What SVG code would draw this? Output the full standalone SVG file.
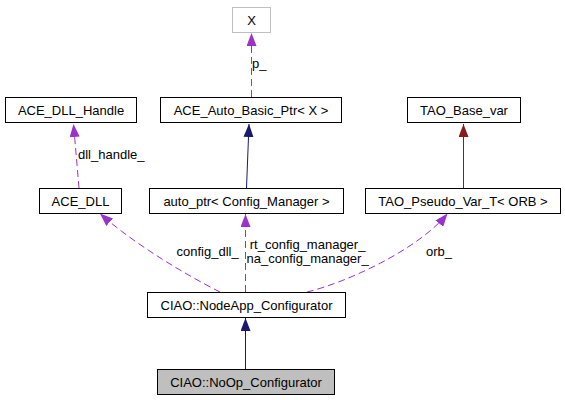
<svg xmlns="http://www.w3.org/2000/svg" width="565" height="400" viewBox="0 0 565 400">
<style>
.node rect{fill:#fff;stroke:#000;stroke-width:1}
text{font-family:"Liberation Sans",Arial,sans-serif;font-size:13px;fill:#000}
.node text{text-anchor:middle}
.dash{fill:none;stroke:#9a32cd;stroke-width:1;stroke-dasharray:7,4}
.navy{fill:none;stroke:#191970;stroke-width:1}
.red{fill:none;stroke:#8b1a1a;stroke-width:1}
</style>
<defs>
<marker id="aP" markerUnits="userSpaceOnUse" markerWidth="13" markerHeight="10" refX="13" refY="5" orient="auto"><path d="M0,0L13,5L0,10z" fill="#9a32cd"/></marker>
<marker id="aN" markerUnits="userSpaceOnUse" markerWidth="13" markerHeight="10" refX="13" refY="5" orient="auto"><path d="M0,0L13,5L0,10z" fill="#191970"/></marker>
<marker id="aR" markerUnits="userSpaceOnUse" markerWidth="13" markerHeight="10" refX="13" refY="5" orient="auto"><path d="M0,0L13,5L0,10z" fill="#8b1a1a"/></marker>
</defs>
<rect width="565" height="400" fill="#fff"/>
<g id="connectors">
<path class="dash" d="M251.5,97 L251.5,33" marker-end="url(#aP)"/>
<text x="252" y="68">p_</text>
<path class="dash" d="M79,188 L73.5,124" marker-end="url(#aP)"/>
<text x="78" y="159">dll_handle_</text>
<path class="navy" d="M246.5,188 L249,124" marker-end="url(#aN)"/>
<path class="red" d="M463.5,188 L463.5,124" marker-end="url(#aR)"/>
<path class="dash" d="M220,292 C190,277 135,245 100,213.5" marker-end="url(#aP)"/>
<text x="176.5" y="256">config_dll_</text>
<path class="dash" d="M245.5,292 L245.5,214" marker-end="url(#aP)"/>
<text x="307.6" y="249.3" text-anchor="middle">rt_config_manager_</text>
<text x="307.6" y="263.3" text-anchor="middle">na_config_manager_</text>
<path class="dash" d="M307,292 C345,283 418,250 447.5,213.5" marker-end="url(#aP)"/>
<text x="426" y="256">orb_</text>
<path class="navy" d="M245.5,369 L245.5,318" marker-end="url(#aN)"/>
</g>
<g id="X" class="node"><rect x="232.5" y="7.5" width="38" height="25" style="stroke:#bfbfbf"/><text x="251.5" y="25">X</text></g>
<g id="ACE_DLL_Handle" class="node"><rect x="5.5" y="97.5" width="131" height="25"/><text x="71" y="115">ACE_DLL_Handle</text></g>
<g id="ACE_Auto_Basic_Ptr" class="node"><rect x="160.5" y="97.5" width="181" height="25"/><text x="251" y="115">ACE_Auto_Basic_Ptr&lt; X &gt;</text></g>
<g id="TAO_Base_var" class="node"><rect x="407.5" y="97.5" width="113" height="25"/><text x="464" y="115">TAO_Base_var</text></g>
<g id="ACE_DLL" class="node"><rect x="39.5" y="188.5" width="82" height="25"/><text x="80.5" y="206">ACE_DLL</text></g>
<g id="auto_ptr" class="node"><rect x="149.5" y="188.5" width="194" height="25"/><text x="246.5" y="206">auto_ptr&lt; Config_Manager &gt;</text></g>
<g id="TAO_Pseudo_Var_T" class="node"><rect x="365.5" y="188.5" width="195" height="25"/><text x="463" y="206">TAO_Pseudo_Var_T&lt; ORB &gt;</text></g>
<g id="NodeApp_Configurator" class="node"><rect x="147.5" y="292.5" width="198" height="25"/><text x="246.5" y="310">CIAO::NodeApp_Configurator</text></g>
<g id="NoOp_Configurator" class="node"><rect x="157.5" y="369.5" width="177" height="25" style="fill:#bfbfbf"/><text x="246" y="387">CIAO::NoOp_Configurator</text></g>
</svg>
